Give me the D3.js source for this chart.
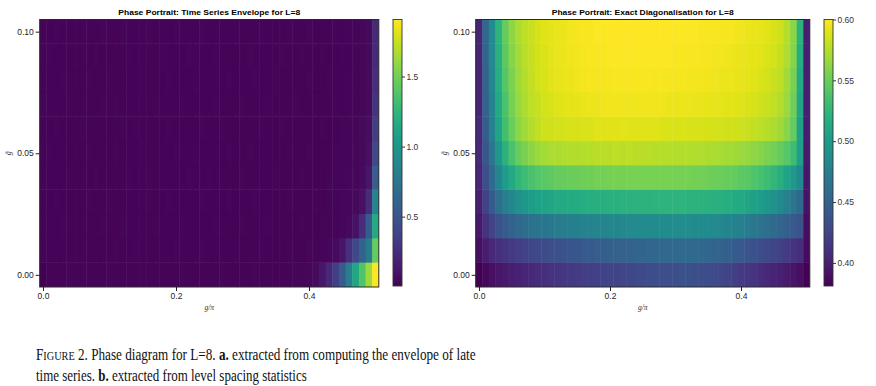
<!DOCTYPE html>
<meta charset="utf-8">
<style>
body { margin: 0; background: #fff; }
</style>
<svg width="876" height="386"></svg>
<script src="https://cdn.jsdelivr.net/npm/d3@7"></script>
<script>

// grid of the scan
var gValues = [0, 0.01, 0.02, 0.03, 0.04, 0.05, 0.06, 0.07, 0.08, 0.09,
  0.10, 0.11, 0.12, 0.13, 0.14, 0.15, 0.16, 0.17, 0.18, 0.19,
  0.20, 0.21, 0.22, 0.23, 0.24, 0.25, 0.26, 0.27, 0.28, 0.29,
  0.30, 0.31, 0.32, 0.33, 0.34, 0.35, 0.36, 0.37, 0.38, 0.39,
  0.40, 0.41, 0.42, 0.43, 0.44, 0.45, 0.46, 0.47, 0.48, 0.49, 0.50];
var deltaValues = [0, 0.01, 0.02, 0.03, 0.04, 0.05, 0.06, 0.07, 0.08, 0.09, 0.10];

// panel a: late time series envelope, one row per delta (0.00 first)
var envelope = [
  [.005,.02,.02,.02,.03,.02,.02,.02,.02,.02, .03,.02,.02,.02,.02,.03,.02,.02,.02,.02, .02,.03,.02,.02,.02,.02,.02,.03,.02,.02, .02,.02,.03,.02,.02,.02,.02,.02,.03,.03, .04,.06,.12,.22,.36,.54,.80,1.12,1.38,1.62, 1.907],
  [.02,.02,.02,.02,.02,.03,.02,.02,.02,.02, .02,.03,.02,.02,.03,.02,.02,.02,.02,.02, .03,.02,.02,.02,.03,.02,.02,.02,.02,.03, .02,.02,.02,.03,.02,.02,.02,.03,.02,.02, .03,.03,.03,.04,.06,.11,.27,.42,.60,.78, 1.45],
  [.02,.02,.02,.03,.02,.02,.02,.02,.02,.03, .02,.02,.03,.02,.02,.02,.02,.03,.02,.02, .02,.03,.02,.02,.02,.02,.03,.02,.02,.02, .03,.02,.02,.02,.03,.02,.02,.02,.02,.03, .02,.02,.03,.03,.03,.04,.05,.09,.25,.55, 1.15],
  [.02,.02,.03,.02,.02,.02,.02,.03,.02,.02, .03,.02,.02,.02,.02,.02,.03,.02,.02,.03, .02,.02,.02,.02,.03,.02,.02,.02,.03,.02, .02,.02,.03,.02,.02,.02,.02,.03,.02,.02, .02,.03,.02,.03,.03,.04,.04,.05,.08,.24, .86],
  [.02,.02,.02,.02,.03,.02,.02,.02,.03,.02, .02,.02,.02,.03,.02,.02,.03,.02,.02,.02, .02,.02,.03,.02,.02,.03,.02,.02,.02,.02, .03,.02,.02,.02,.02,.03,.02,.02,.02,.03, .02,.02,.02,.03,.03,.03,.04,.04,.06,.11, .56],
  [.02,.03,.02,.02,.02,.02,.02,.03,.02,.02, .02,.03,.02,.02,.02,.03,.02,.02,.02,.02, .03,.02,.02,.03,.02,.02,.02,.02,.03,.02, .02,.03,.02,.02,.02,.02,.02,.03,.02,.02, .03,.02,.02,.02,.03,.03,.03,.04,.05,.08, .42],
  [.02,.02,.03,.02,.02,.02,.03,.02,.02,.02, .02,.02,.03,.02,.03,.02,.02,.02,.02,.03, .02,.02,.02,.02,.03,.02,.02,.03,.02,.02, .02,.02,.02,.03,.02,.02,.03,.02,.02,.02, .02,.02,.03,.02,.02,.03,.03,.03,.05,.07, .34],
  [.03,.02,.02,.02,.03,.02,.02,.02,.02,.03, .02,.03,.02,.02,.02,.02,.02,.03,.02,.02, .02,.03,.02,.02,.02,.02,.03,.02,.02,.02, .03,.02,.02,.02,.03,.02,.02,.02,.03,.02, .02,.03,.02,.02,.03,.02,.03,.03,.04,.06, .28],
  [.02,.02,.02,.03,.02,.02,.02,.03,.02,.02, .03,.02,.02,.02,.02,.03,.02,.02,.02,.03, .02,.02,.02,.03,.02,.02,.02,.02,.03,.02, .02,.02,.03,.02,.02,.03,.02,.02,.02,.02, .03,.02,.02,.03,.02,.02,.03,.03,.04,.06, .25],
  [.02,.03,.02,.02,.02,.03,.02,.02,.03,.02, .02,.02,.02,.03,.02,.02,.02,.02,.03,.02, .02,.02,.03,.02,.02,.02,.03,.02,.02,.02, .02,.03,.02,.02,.02,.02,.03,.02,.02,.03, .02,.02,.03,.02,.02,.03,.02,.03,.04,.05, .22],
  [.02,.02,.03,.02,.02,.03,.02,.02,.02,.03, .02,.02,.03,.02,.02,.02,.03,.02,.02,.02, .03,.02,.02,.02,.03,.02,.02,.02,.02,.03, .02,.02,.02,.03,.02,.02,.02,.03,.02,.02, .03,.02,.02,.02,.03,.02,.03,.03,.04,.05, .22]
];

// panel b: mean level spacing ratio, one row per delta (0.00 first)
var spacing = [
  [.381,.386,.390,.393,.396,.399,.401,.404,.406,.408, .410,.412,.414,.416,.417,.419,.421,.422,.423,.424, .425,.426,.427,.428,.429,.430,.431,.432,.433,.434, .434,.435,.435,.434,.433,.432,.430,.428,.425,.422, .419,.416,.412,.409,.406,.403,.400,.397,.393,.389, .381],
  [.389,.399,.406,.411,.415,.418,.421,.424,.427,.429, .431,.433,.435,.437,.439,.440,.442,.443,.445,.446, .447,.448,.449,.450,.451,.452,.453,.453,.454,.454, .455,.455,.455,.455,.454,.453,.451,.449,.447,.444, .441,.438,.435,.432,.429,.426,.423,.419,.415,.410, .387],
  [.395,.412,.425,.436,.443,.449,.454,.458,.462,.465, .467,.469,.471,.473,.475,.476,.478,.479,.480,.481, .482,.483,.484,.485,.485,.486,.486,.487,.487,.487, .488,.488,.488,.487,.487,.486,.485,.483,.481,.479, .476,.472,.468,.464,.460,.456,.452,.447,.442,.436, .388],
  [.400,.424,.444,.460,.473,.483,.491,.497,.502,.506, .509,.511,.513,.514,.515,.516,.517,.518,.519,.519, .520,.520,.521,.521,.522,.522,.522,.523,.523,.523, .523,.523,.522,.522,.522,.521,.520,.519,.517,.515, .513,.510,.506,.502,.497,.491,.484,.476,.466,.455, .392],
  [.404,.433,.457,.480,.500,.514,.524,.531,.537,.541, .544,.546,.548,.549,.550,.551,.552,.552,.553,.553, .554,.554,.554,.555,.555,.555,.555,.555,.555,.555, .554,.554,.554,.553,.553,.552,.551,.550,.549,.547, .545,.543,.540,.536,.532,.526,.518,.509,.499,.484, .394],
  [.405,.440,.468,.498,.521,.537,.549,.556,.562,.567, .570,.572,.573,.574,.575,.575,.576,.576,.577,.577, .577,.578,.577,.578,.577,.577,.577,.576,.576,.576, .576,.575,.575,.574,.574,.573,.572,.571,.570,.569, .567,.565,.563,.560,.557,.553,.548,.542,.532,.503, .396],
  [.405,.444,.476,.508,.534,.550,.562,.569,.575,.580, .583,.584,.585,.586,.587,.587,.588,.588,.589,.589, .589,.589,.590,.589,.589,.589,.589,.589,.588,.588, .588,.588,.587,.587,.587,.586,.586,.585,.584,.584, .583,.582,.580,.578,.576,.573,.569,.561,.547,.505, .398],
  [.403,.448,.479,.514,.537,.554,.565,.573,.578,.582, .585,.587,.589,.590,.591,.592,.593,.594,.594,.595, .595,.595,.595,.595,.595,.595,.595,.595,.595,.594, .594,.594,.594,.593,.593,.592,.592,.591,.590,.590, .589,.588,.586,.584,.582,.579,.575,.567,.552,.510, .399],
  [.403,.450,.482,.517,.541,.557,.568,.575,.580,.585, .587,.590,.592,.593,.594,.595,.596,.597,.597,.597, .597,.598,.598,.598,.598,.598,.598,.597,.598,.597, .597,.597,.596,.596,.596,.595,.595,.594,.594,.593, .592,.591,.589,.588,.586,.582,.578,.570,.556,.513, .399],
  [.403,.452,.485,.520,.545,.560,.570,.577,.581,.586, .588,.591,.593,.594,.595,.596,.597,.598,.598,.598, .599,.599,.599,.599,.599,.599,.599,.599,.599,.599, .598,.598,.598,.598,.597,.597,.596,.596,.595,.594, .593,.592,.591,.590,.588,.585,.581,.574,.560,.517, .399],
  [.403,.453,.486,.523,.547,.563,.572,.578,.582,.587, .589,.591,.593,.594,.596,.597,.598,.598,.599,.599, .599,.600,.600,.600,.600,.600,.600,.600,.600,.600, .599,.599,.599,.599,.598,.598,.598,.597,.597,.596, .595,.594,.593,.592,.590,.587,.583,.576,.562,.522, .399]
];

var gTicks = [0, 0.2, 0.4];
var deltaTicks = [0, 0.05, 0.10];
var envelopeTicks = [0.5, 1.0, 1.5];
var spacingTicks = [0.40, 0.45, 0.50, 0.55, 0.60];

[envelope, spacing].forEach(function(m) {
  if (m.length != deltaValues.length) throw new Error("bad row count");
  m.forEach(function(r, j) { if (r.length != gValues.length) throw new Error("row " + j + " has " + r.length); });
});

var sans = "'Liberation Sans', Arial, sans-serif";
var serif = "'Liberation Serif', 'DejaVu Serif', serif";
var svg = d3.select("svg");
var plotTop = 19.5, plotBottom = 287;

function squeeze(sel, x0, width) {
  var w = sel.node().getBBox().width;
  sel.attr("transform", "translate(" + x0 + ",0) scale(" + (width / w) + ",1) translate(" + (-x0) + ",0)");
}

function panel(p) {
  var g = svg.append("g");
  var x = d3.scaleLinear().domain([-0.005, 0.505]).range([p.left, p.right]);
  var y = d3.scaleLinear().domain([-0.005, 0.105]).range([plotBottom, plotTop]);
  var color = d3.scaleSequential(d3.interpolateViridis).domain(d3.extent(d3.merge(p.data)));

  var cells = [];
  p.data.forEach(function(row, j) {
    row.forEach(function(v, i) { cells.push({g: gValues[i], d: deltaValues[j], v: v}); });
  });

  // small overlap so neighbouring cells do not leave light seams
  g.selectAll("rect.cell")
    .data(cells)
    .enter().append("rect")
    .attr("class", "cell")
    .attr("x", function(d) { return x(d.g - 0.005); })
    .attr("width", function(d) { return x(d.g + 0.005) - x(d.g - 0.005) + (d.g < 0.5 ? 0.5 : 0); })
    .attr("y", function(d) { return y(d.d + 0.005) - (d.d < 0.1 ? 0.5 : 0); })
    .attr("height", function(d) { return y(d.d - 0.005) - y(d.d + 0.005) + (d.d < 0.1 ? 0.5 : 0); })
    .attr("fill", function(d) { return color(d.v); });

  g.append("rect")
    .attr("x", p.left).attr("y", plotTop)
    .attr("width", p.right - p.left).attr("height", plotBottom - plotTop)
    .attr("fill", "none").attr("stroke", "#2a2a2a").attr("stroke-width", 1);

  var xa = g.append("g")
    .attr("transform", "translate(0," + plotBottom + ")")
    .call(d3.axisBottom(x).tickValues(gTicks).tickFormat(d3.format(".1f")).tickSize(4).tickPadding(2));
  var ya = g.append("g")
    .attr("transform", "translate(" + p.left + ",0)")
    .call(d3.axisLeft(y).tickValues(deltaTicks).tickFormat(d3.format(".2f")).tickSize(4).tickPadding(2));
  [xa, ya].forEach(function(a) {
    a.select(".domain").remove();
    a.selectAll("line").attr("stroke", "#222");
    a.selectAll("text").attr("font-size", "8.5px").attr("fill", "#222").style("font-family", sans);
  });

  // title
  g.append("text")
    .attr("x", (p.left + p.right) / 2).attr("y", 15)
    .attr("text-anchor", "middle")
    .style("font-family", sans)
    .attr("font-size", "8px").attr("font-weight", "bold")
    .attr("textLength", 182).attr("lengthAdjust", "spacingAndGlyphs")
    .text(p.title);

  // axis labels
  g.append("text")
    .attr("x", (p.left + p.right) / 2).attr("y", 310)
    .attr("text-anchor", "middle")
    .style("font-family", serif).style("font-style", "italic")
    .attr("font-size", "7.5px").attr("fill", "#333")
    .text("g/\u03c0");
  g.append("text")
    .attr("transform", "translate(" + (p.left - 29) + "," + ((plotTop + plotBottom) / 2) + ") rotate(-90)")
    .attr("text-anchor", "middle")
    .style("font-family", serif).style("font-style", "italic")
    .attr("font-size", "8px").attr("fill", "#333")
    .text("g\u0303");

  // colorbar
  var cb = d3.scaleLinear().domain(color.domain()).range([plotBottom - 1, plotTop]);
  var gradId = "grad" + p.id;
  var grad = svg.append("defs").append("linearGradient")
    .attr("id", gradId).attr("x1", 0).attr("y1", 1).attr("x2", 0).attr("y2", 0);
  grad.selectAll("stop")
    .data(d3.range(0, 1.0001, 0.05))
    .enter().append("stop")
    .attr("offset", function(t) { return t; })
    .attr("stop-color", function(t) { return d3.interpolateViridis(t); });
  g.append("rect")
    .attr("x", p.cbX).attr("y", plotTop)
    .attr("width", 9).attr("height", plotBottom - 1 - plotTop)
    .attr("fill", "url(#" + gradId + ")")
    .attr("stroke", "#333").attr("stroke-width", 0.9);
  var ca = g.append("g")
    .attr("transform", "translate(" + (p.cbX + 9) + ",0)")
    .call(d3.axisRight(cb).tickValues(p.cbTicks).tickFormat(d3.format(p.cbFormat)).tickSize(3).tickPadding(1.5));
  ca.select(".domain").remove();
  ca.selectAll("line").attr("stroke", "#333");
  ca.selectAll("text").attr("font-size", "8.5px").attr("fill", "#333").style("font-family", sans);
}

panel({id: "a", left: 39.7, right: 378.8, data: envelope, cbX: 393, cbTicks: envelopeTicks, cbFormat: ".1f",
  title: "Phase Portrait: Time Series Envelope for L=8"});
panel({id: "b", left: 475.7, right: 809.8, data: spacing, cbX: 824, cbTicks: spacingTicks, cbFormat: ".2f",
  title: "Phase Portrait: Exact Diagonalisation for L=8"});

// caption
var cap = svg.append("g").attr("fill", "#111");
var l1 = cap.append("text").attr("x", 36).attr("y", 360).attr("font-size", "16px").style("font-family", serif);
l1.append("tspan").text("F");
l1.append("tspan").attr("font-size", "12.5px").text("IGURE");
l1.append("tspan").text(" 2. Phase diagram for L=8. ");
l1.append("tspan").attr("font-weight", "bold").text("a.");
l1.append("tspan").text(" extracted from computing the envelope of late");
squeeze(l1, 36, 440);
var l2 = cap.append("text").attr("x", 36).attr("y", 381).attr("font-size", "16px").style("font-family", serif);
l2.append("tspan").text("time series. ");
l2.append("tspan").attr("font-weight", "bold").text("b.");
l2.append("tspan").text(" extracted from level spacing statistics");
squeeze(l2, 36, 271);

</script>
